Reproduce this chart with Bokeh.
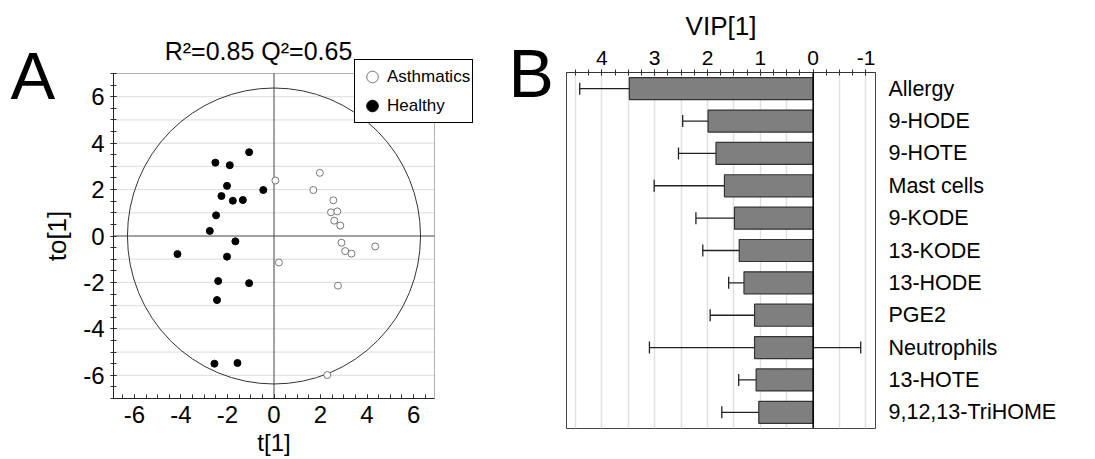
from bokeh.plotting import figure
from bokeh.models import (ColumnDataSource, Range1d, FactorRange, Span, Label, Legend, LegendItem,
                          SingleIntervalTicker, Whisker, TeeHead, BoxAnnotation, CustomJSTickFormatter)
from bokeh.layouts import row
from bokeh.embed import file_html
from bokeh.resources import INLINE

FONT = "Liberation Sans"

# ---------------- Panel A data (OPLS-DA scores) ----------------
healthy_t = [-1.07, -2.52, -1.90, -2.02, -0.46, -2.26, -1.77, -1.34, -2.49, -2.76,
             -1.66, -4.15, -2.02, -2.40, -1.07, -2.45, -2.56, -1.57]
healthy_to = [3.61, 3.16, 3.05, 2.16, 1.98, 1.72, 1.52, 1.55, 0.89, 0.22,
              -0.23, -0.78, -0.89, -1.94, -2.03, -2.76, -5.50, -5.47]
asthma_t = [0.06, 1.97, 1.69, 2.55, 2.45, 2.72, 2.59, 2.85, 2.90, 3.06, 3.33, 4.35, 0.21, 2.75, 2.29]
asthma_to = [2.39, 2.72, 1.98, 1.54, 1.02, 1.06, 0.66, 0.45, -0.29, -0.65, -0.76, -0.45, -1.14, -2.14, -5.99]
ellipse_width = 12.6
ellipse_height = 12.75
grid_levels = [-6, -5, -4, -3, -2, -1, 1, 2, 3, 4, 5, 6]
title_a = "R\u00b2=0.85 Q\u00b2=0.65"

# ---------------- Panel B data (VIP) ----------------
vip_labels = ["Allergy", "9-HODE", "9-HOTE", "Mast cells", "9-KODE", "13-KODE",
              "13-HODE", "PGE2", "Neutrophils", "13-HOTE", "9,12,13-TriHOME"]
vip_values = [3.48, 1.99, 1.84, 1.68, 1.49, 1.40, 1.31, 1.11, 1.11, 1.08, 1.03]
vip_upper = [4.42, 2.47, 2.55, 3.01, 2.22, 2.09, 1.60, 1.95, 3.10, 1.41, 1.73]
vip_lower = [2.53, 1.50, 1.15, 0.37, 0.75, 0.68, 0.99, 0.25, -0.90, 0.73, 0.33]

# ---------------- Panel A geometry ----------------
WA, H = 560, 459
box_x = (-6.9, 6.9)        # visible plotting box (data units)
box_y = (-7.0, 7.0)
box_px = (113, 434, 73, 398)   # left, right, top, bottom of that box in canvas pixels
ppx = (box_px[1] - box_px[0]) / (box_x[1] - box_x[0])
ppy = (box_px[3] - box_px[2]) / (box_y[1] - box_y[0])
xr = Range1d(box_x[0] - box_px[0] / ppx, box_x[1] + (WA - box_px[1]) / ppx)
yr = Range1d(box_y[0] - (H - box_px[3]) / ppy, box_y[1] + box_px[2] / ppy)

def px2x(px):
    return box_x[0] + (px - box_px[0]) / ppx

def px2y(py):
    return box_y[1] - (py - box_px[2]) / ppy

minus_fmt = CustomJSTickFormatter(code="return String(tick);")

pA = figure(width=WA, height=H, output_backend="svg", toolbar_location=None,
            x_range=xr, y_range=yr, frame_align=False,
            min_border_left=0, min_border_right=0, min_border_top=0, min_border_bottom=0)
pA.outline_line_color = None
pA.background_fill_color = "white"
pA.border_fill_color = "white"
pA.xgrid.visible = False
pA.ygrid.visible = False

xa_A = pA.xaxis[0]
ya_A = pA.yaxis[0]
xa_A.fixed_location = box_y[0]
xa_A.bounds = box_x
ya_A.fixed_location = box_x[0]
ya_A.bounds = box_y
for ax in (xa_A, ya_A):
    ax.ticker = SingleIntervalTicker(interval=2, num_minor_ticks=4)
    ax.formatter = minus_fmt
    ax.major_label_text_font = FONT
    ax.major_label_text_font_size = "24px"
    ax.major_label_text_color = "black"
    ax.axis_line_color = "#333333"
    ax.major_tick_line_color = "#333333"
    ax.minor_tick_line_color = "#333333"
    ax.axis_label_text_font = FONT
    ax.axis_label_text_font_style = "normal"
    ax.axis_label_text_color = "black"
xa_A.major_tick_in = 4
xa_A.major_tick_out = 0
xa_A.minor_tick_in = 4
xa_A.minor_tick_out = 0
xa_A.major_label_standoff = 7
xa_A.axis_label = "t[1]"
xa_A.axis_label_text_font_size = "24px"
xa_A.axis_label_standoff = 3
ya_A.major_tick_in = 3
ya_A.major_tick_out = 3
ya_A.minor_tick_in = 3
ya_A.minor_tick_out = 3
ya_A.major_label_standoff = 6
ya_A.axis_label = "to[1]"
ya_A.axis_label_text_font_size = "26px"
ya_A.axis_label_standoff = 8

# horizontal grid lines inside the box
pA.segment(x0=[box_x[0]] * len(grid_levels), y0=grid_levels,
           x1=[box_x[1]] * len(grid_levels), y1=grid_levels,
           line_color="#dcdcdc", line_width=1)
# zero lines
pA.segment(x0=[0, box_x[0]], y0=[box_y[0], 0], x1=[0, box_x[1]], y1=[box_y[1], 0],
           line_color="#444444", line_width=1)
# plotting box
pA.add_layout(BoxAnnotation(left=box_x[0], right=box_x[1], bottom=box_y[0], top=box_y[1],
                            fill_color=None, fill_alpha=0, line_color="black", line_width=1))

pA.ellipse(x=[0], y=[0], width=[ellipse_width], height=[ellipse_height],
           fill_color=None, line_color="#333333", line_width=1)

r_ast = pA.scatter(asthma_t, asthma_to, marker="circle", size=7, fill_color="white",
                   line_color="#777777", line_width=1)
r_hea = pA.scatter(healthy_t, healthy_to, marker="circle", size=7, fill_color="black",
                   line_color="black")

legend = Legend(items=[LegendItem(label="Asthmatics", renderers=[r_ast]),
                       LegendItem(label="Healthy", renderers=[r_hea])],
                location=(354, H - 123), orientation="vertical",
                glyph_width=30, glyph_height=29, spacing=-1, padding=2, margin=0,
                label_standoff=0, label_text_font=FONT, label_text_font_size="17px",
                label_text_color="black", label_height=29,
                border_line_color="black", border_line_width=1.5, border_line_alpha=1,
                background_fill_color="white", background_fill_alpha=1)
pA.add_layout(legend, "center")

pA.add_layout(Label(x=px2x(258), y=px2y(50), text=title_a,
                    text_align="center", text_baseline="middle", text_font=FONT,
                    text_font_size="25px", text_color="black"))
pA.add_layout(Label(x=px2x(10), y=px2y(75), text="A",
                    text_align="left", text_baseline="alphabetic", text_font=FONT,
                    text_font_size="67px", text_color="black"))
pA.add_layout(Label(x=px2x(508), y=px2y(72), text="B",
                    text_align="left", text_baseline="alphabetic", text_font=FONT,
                    text_font_size="68px", text_color="black"))

# ================= Panel B =================
src = ColumnDataSource(dict(label=vip_labels, value=vip_values, upper=vip_upper, lower=vip_lower))

WB = 1095 - WA
pB = figure(width=WB, height=H, output_backend="svg", toolbar_location=None,
            x_range=Range1d(4.67, -1.18), y_range=FactorRange(factors=vip_labels[::-1]),
            x_axis_location="above", y_axis_location="right", frame_align=False,
            min_border_left=566 - WA, min_border_right=1095 - 875, min_border_top=72,
            min_border_bottom=H - 428)
pB.outline_line_color = "#444444"
pB.outline_line_width = 1
pB.background_fill_color = "white"
pB.border_fill_color = "white"

pB.ygrid.grid_line_color = None
pB.xgrid.ticker = SingleIntervalTicker(interval=0.5)
pB.xgrid.grid_line_color = "#e0e0e0"
pB.xgrid.grid_line_width = 1.5

xb = pB.xaxis[0]
xb.ticker = SingleIntervalTicker(interval=1, num_minor_ticks=4)
xb.formatter = minus_fmt
xb.major_label_text_font = FONT
xb.major_label_text_font_size = "21px"
xb.major_label_text_color = "black"
xb.axis_line_color = "#333333"
xb.major_tick_line_color = "#333333"
xb.minor_tick_line_color = "#333333"
xb.major_tick_in = 3
xb.major_tick_out = 3
xb.minor_tick_in = 3
xb.minor_tick_out = 3
xb.major_label_standoff = 5
xb.axis_label = "VIP[1]"
xb.axis_label_text_font = FONT
xb.axis_label_text_font_size = "26px"
xb.axis_label_text_font_style = "normal"
xb.axis_label_text_color = "black"
xb.axis_label_standoff = 7

yb = pB.yaxis[0]
yb.axis_line_color = None
yb.major_tick_line_color = None
yb.minor_tick_line_color = None
yb.major_label_text_font = FONT
yb.major_label_text_font_size = "21.5px"
yb.major_label_text_color = "black"
yb.major_label_standoff = 7

pB.hbar(y="label", left=0, right="value", height=0.68, source=src,
        fill_color="#7f7f7f", line_color="#333333", line_width=1.2)
pB.add_layout(Span(location=0, dimension="height", line_color="black", line_width=1.5))
pB.add_layout(Whisker(base="label", upper="upper", lower="lower", dimension="width", source=src,
                      line_color="#222222", line_width=1.3,
                      upper_head=TeeHead(size=12, line_color="#222222", line_width=1.3),
                      lower_head=TeeHead(size=12, line_color="#222222", line_width=1.3)))

layout = row(pA, pB)
open("out.html", "w").write(file_html(layout, INLINE))
